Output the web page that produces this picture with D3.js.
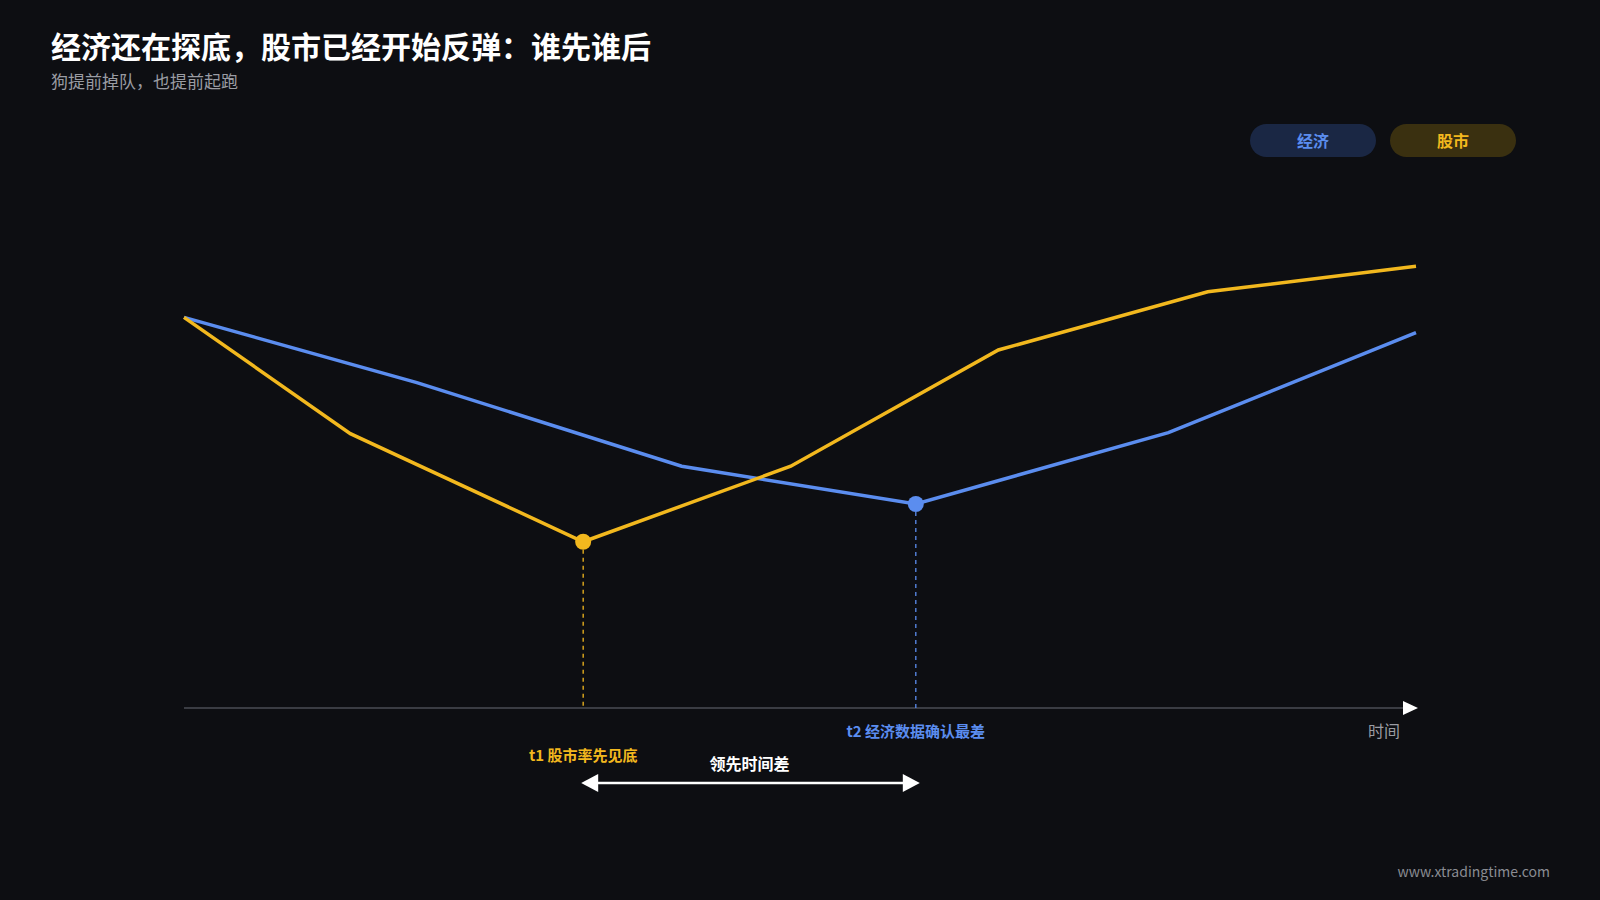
<!DOCTYPE html>
<html><head><meta charset="utf-8">
<script src="https://cdn.jsdelivr.net/npm/d3@7"></script>
<style>
body{margin:0;background:#0d0e12;font-family:"Noto Sans CJK SC","Noto Sans",sans-serif;}
</style></head><body>
<svg id="c" width="1600" height="900"></svg>
<script>
// data (time 0..100, level 0..100)
var econT = [0, 18.9, 40.4, 59.4, 79.9, 100];
var econV = [76.6, 63.8, 47.4, 40, 54, 73.6];
var stockT = [0, 13.5, 32.4, 49.25, 66.1, 83.1, 100];
var stockV = [76.6, 53.8, 32.6, 47.4, 70.2, 81.6, 86.6];
var legendLabels = ["经济", "股市"];
var econColor = "#5b8def", stockColor = "#f2b81e";

var svg = d3.select("#c");
var x = d3.scaleLinear().domain([0, 100]).range([184, 1416]);
var y = d3.scaleLinear().domain([0, 100]).range([708, 198]);

svg.append("text").attr("x", 51).attr("y", 58).attr("fill", "#fff")
   .style("font-size", "30px").style("font-weight", "bold").text("经济还在探底，股市已经开始反弹：谁先谁后");
svg.append("text").attr("x", 51).attr("y", 88).attr("fill", "#9a9ca3")
   .style("font-size", "17px").text("狗提前掉队，也提前起跑");

// legend pills
var pills = [{x: 1250, fill: "#1a2744", c: econColor}, {x: 1390, fill: "#3a3010", c: stockColor}];
pills.forEach(function(p, i) {
  svg.append("rect").attr("x", p.x).attr("y", 124).attr("width", 126).attr("height", 33)
     .attr("rx", 16.5).attr("fill", p.fill);
  svg.append("text").attr("x", p.x + 63).attr("y", 147).attr("text-anchor", "middle")
     .attr("fill", p.c).style("font-size", "16px").style("font-weight", "bold").text(legendLabels[i]);
});

// axis
svg.append("line").attr("x1", x(0)).attr("x2", x(100) - 4).attr("y1", y(0)).attr("y2", y(0))
   .attr("stroke", "#4a4c55").attr("stroke-width", 1.5);
svg.append("path").attr("d", `M${x(100)+2},${y(0)} l-15,-7 v14 z`).attr("fill", "#fff");
svg.append("text").attr("x", 1400).attr("y", 737).attr("text-anchor", "end").attr("fill", "#9a9ca3")
   .style("font-size", "16px").text("时间");

var line = d3.line().x(d => x(d[0])).y(d => y(d[1]));
var econ = econT.map((t, i) => [t, econV[i]]);
var stock = stockT.map((t, i) => [t, stockV[i]]);

// drop lines
var sMin = stock[2], eMin = econ[3];
svg.append("line").attr("x1", x(sMin[0])).attr("x2", x(sMin[0])).attr("y1", y(sMin[1])).attr("y2", y(0))
   .attr("stroke", stockColor).attr("stroke-dasharray", "4,4").attr("stroke-width", 1.3);
svg.append("line").attr("x1", x(eMin[0])).attr("x2", x(eMin[0])).attr("y1", y(eMin[1])).attr("y2", y(0))
   .attr("stroke", econColor).attr("stroke-dasharray", "4,4").attr("stroke-width", 1.3);

svg.append("path").datum(econ).attr("d", line).attr("fill", "none").attr("stroke", econColor).attr("stroke-width", 3.5);
svg.append("path").datum(stock).attr("d", line).attr("fill", "none").attr("stroke", stockColor).attr("stroke-width", 3.5);
svg.append("circle").attr("cx", x(sMin[0])).attr("cy", y(sMin[1])).attr("r", 8).attr("fill", stockColor);
svg.append("circle").attr("cx", x(eMin[0])).attr("cy", y(eMin[1])).attr("r", 8).attr("fill", econColor);

svg.append("text").attr("x", x(eMin[0])).attr("y", 737).attr("text-anchor", "middle").attr("fill", econColor)
   .style("font-size", "15px").style("font-weight", "bold").text("t2 经济数据确认最差");
svg.append("text").attr("x", x(sMin[0])).attr("y", 761).attr("text-anchor", "middle").attr("fill", stockColor)
   .style("font-size", "15px").style("font-weight", "bold").text("t1 股市率先见底");
svg.append("text").attr("x", (x(sMin[0]) + x(eMin[0])) / 2).attr("y", 770).attr("text-anchor", "middle").attr("fill", "#fff")
   .style("font-size", "16px").style("font-weight", "bold").text("领先时间差");

// double arrow
var ay = 783, ax1 = x(sMin[0]) - 2, ax2 = x(eMin[0]) + 4;
svg.append("line").attr("x1", ax1 + 14).attr("x2", ax2 - 14).attr("y1", ay).attr("y2", ay).attr("stroke", "#fff").attr("stroke-width", 2.5);
svg.append("path").attr("d", `M${ax1},${ay} l17,-9 v18 z`).attr("fill", "#fff");
svg.append("path").attr("d", `M${ax2},${ay} l-17,-9 v18 z`).attr("fill", "#fff");

svg.append("text").attr("x", 1550).attr("y", 877).attr("text-anchor", "end").attr("fill", "#8a8c93")
   .style("font-size", "14px").text("www.xtradingtime.com");
</script></body></html>
